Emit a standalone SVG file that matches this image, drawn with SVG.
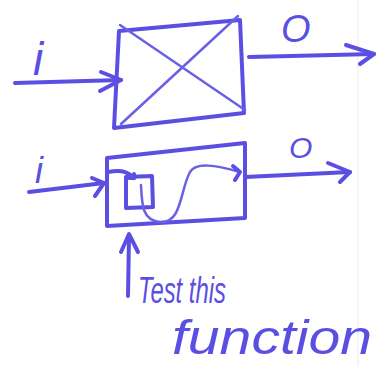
<svg xmlns="http://www.w3.org/2000/svg" width="381" height="366" viewBox="0 0 381 366">
<defs>
<style>
.ink{fill:none;stroke:#5b4fe3;stroke-width:4;stroke-linecap:round;stroke-linejoin:round}
.thin{fill:none;stroke:#6a60e6;stroke-width:2.5;stroke-linecap:round}
.lbl{fill:#5b4fe3;font-family:"Liberation Sans",Arial,sans-serif;font-style:italic}
</style>
</defs>
<rect width="381" height="366" fill="#ffffff"/>
<line x1="358" y1="0" x2="358" y2="366" stroke="#ececf0" stroke-width="1"/>
<g id="box-top">
<path class="ink" d="M119 31 L240 20 L244 113 L114 128 Z"/>
<path class="thin" d="M120 25 L245 110"/>
<path class="thin" d="M238 16 L121 124"/>
</g>
<g id="box-bottom">
<path class="ink" d="M107 158 L245 143 L245 218 L107 226 Z"/>
</g>
<g id="box-inner">
<path class="ink" d="M126 177 L152 176 L153 207 L126 208 Z"/>
</g>
<g id="connectors">
<path class="ink" d="M15 83 L121 80"/>
<path class="ink" d="M101 72 L121 80 L100 91"/>
<path class="ink" d="M249 57 L374 54"/>
<path class="ink" d="M346 45 L374 54 L360 64"/>
<path class="ink" d="M29 192 L104 183"/>
<path class="ink" d="M92 178 L104 183 L95 196"/>
<path class="ink" d="M108 172 C118 170 126 170 134 178"/>
<path class="ink" d="M129 178 L134 178 L134 174"/>
<path class="thin" d="M141 185 C142 205 142 220 160 222 C182 224 180 190 190 172 C196 162 215 165 240 172"/>
<path class="ink" d="M233 166 L240 172 L235 180"/>
<path class="ink" d="M245 177 L350 172"/>
<path class="ink" d="M328 163 L350 172 L340 182"/>
<path class="ink" d="M128 296 L129 236"/>
<path class="ink" d="M121 252 L129 234 L138 252"/>
</g>
<g id="labels">
<text class="lbl" x="33" y="75" font-size="46">i</text>
<text class="lbl" x="281" y="42" font-size="38">O</text>
<text class="lbl" x="35" y="183" font-size="36">i</text>
<text class="lbl" x="289" y="158" font-size="30">O</text>
<text class="lbl" x="138" y="303" font-size="36" textLength="88" lengthAdjust="spacingAndGlyphs">Test this</text>
<text class="lbl" x="172" y="354" font-size="48" textLength="200" lengthAdjust="spacingAndGlyphs">function</text>
</g>
</svg>
